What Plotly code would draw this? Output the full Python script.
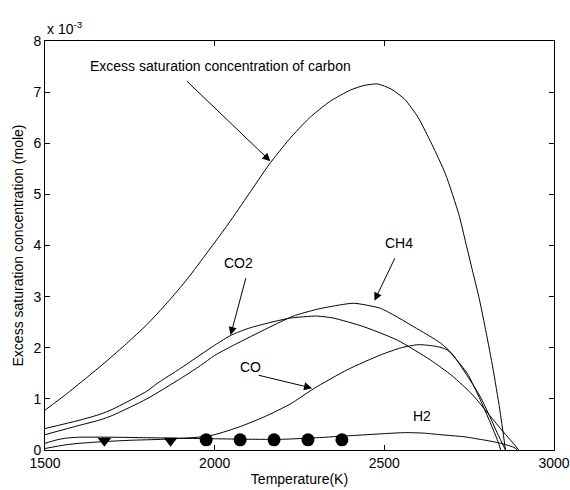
import plotly.graph_objects as go

# Values in units of 1e-3 mole
T_carbon = [1500, 1560, 1620, 1680, 1740, 1800, 1860, 1920, 1980, 2040, 2100, 2160, 2220, 2280,
            2340, 2400, 2440, 2480, 2520, 2560, 2600, 2640, 2680, 2720, 2740, 2760, 2780, 2800,
            2820, 2840, 2857]
C_carbon = [0.78, 1.08, 1.40, 1.73, 2.08, 2.45, 2.88, 3.35, 3.88, 4.42, 5.00, 5.58, 6.08, 6.50,
            6.82, 7.04, 7.13, 7.16, 7.06, 6.86, 6.50, 5.98, 5.40, 4.60, 4.05, 3.50, 2.95, 2.30,
            1.60, 0.80, 0.0]

T_co2 = [1500, 1600, 1663, 1700, 1800, 1830, 1900, 2000, 2050, 2100, 2155, 2223, 2300, 2350,
         2440, 2538, 2636, 2700, 2760, 2810, 2850, 2880, 2896]
C_co2 = [0.42, 0.58, 0.70, 0.80, 1.15, 1.30, 1.60, 2.05, 2.25, 2.38, 2.48, 2.58, 2.62, 2.58,
         2.41, 2.15, 1.76, 1.45, 1.08, 0.68, 0.36, 0.13, 0.0]

T_ch4 = [1500, 1600, 1663, 1700, 1800, 1900, 1958, 2000, 2056, 2155, 2232, 2300, 2371, 2410,
         2489, 2587, 2666, 2700, 2783, 2833, 2857]
C_ch4 = [0.30, 0.48, 0.59, 0.68, 1.00, 1.40, 1.65, 1.85, 2.05, 2.38, 2.62, 2.75, 2.84, 2.87,
         2.77, 2.41, 2.09, 1.88, 1.04, 0.33, 0.0]

T_co = [1500, 1560, 1600, 1663, 1750, 1850, 1950, 2000, 2076, 2150, 2223, 2292, 2391, 2489,
        2550, 2600, 2650, 2685, 2744, 2783, 2833, 2843]
C_co = [0.03, 0.10, 0.13, 0.16, 0.19, 0.21, 0.25, 0.30, 0.46, 0.66, 0.90, 1.20, 1.57, 1.86,
        2.00, 2.06, 2.03, 1.96, 1.50, 0.98, 0.20, 0.0]

T_h2 = [1500, 1530, 1560, 1600, 1700, 1800, 1900, 2000, 2100, 2200, 2300, 2400, 2500, 2560,
        2616, 2664, 2734, 2763, 2823, 2860, 2882, 2892]
C_h2 = [0.13, 0.19, 0.23, 0.25, 0.25, 0.24, 0.23, 0.22, 0.21, 0.21, 0.24, 0.28, 0.32, 0.34,
        0.33, 0.30, 0.26, 0.23, 0.16, 0.10, 0.05, 0.0]

T_tri = [1675, 1870]
C_tri = [0.18, 0.18]
T_dot = [1975, 2075, 2175, 2275, 2375]
C_dot = [0.20, 0.20, 0.20, 0.20, 0.20]

x_ticks = [1500, 2000, 2500, 3000]
y_ticks = [0, 1, 2, 3, 4, 5, 6, 7, 8]

FONT = "Liberation Sans, Arial, sans-serif"
line = dict(color="black", width=1, shape="spline", smoothing=0.6)

fig = go.Figure()
for T, C in [(T_carbon, C_carbon), (T_co2, C_co2), (T_ch4, C_ch4), (T_co, C_co), (T_h2, C_h2)]:
    fig.add_trace(go.Scatter(x=T, y=C, mode="lines", line=line, showlegend=False,
                             hoverinfo="skip"))
fig.add_trace(go.Scatter(x=T_tri, y=C_tri, mode="markers", showlegend=False,
                         marker=dict(symbol="triangle-down", size=12, color="black")))
fig.add_trace(go.Scatter(x=T_dot, y=C_dot, mode="markers", showlegend=False,
                         marker=dict(symbol="circle", size=13, color="black")))

labels = [
    ("Excess saturation concentration of carbon", 2017, 7.51),
    ("CO2", 2070, 3.66),
    ("CH4", 2542, 4.05),
    ("CO", 2106, 1.63),
    ("H2", 2612, 0.665),
]
for txt, x, y in labels:
    fig.add_annotation(x=x, y=y, text=txt, showarrow=False, xref="x", yref="y",
                       font=dict(family=FONT, size=14, color="black"))

arrows = [
    (1914, 7.24, 2164, 5.65),
    (2093, 3.39, 2047, 2.25),
    (2533, 3.78, 2471, 2.92),
    (2125, 1.47, 2287, 1.21),
]
for ax, ay, x, y in arrows:
    fig.add_annotation(x=x, y=y, ax=ax, ay=ay, xref="x", yref="y", axref="x", ayref="y",
                       text="", showarrow=True, arrowhead=2, arrowsize=1.6, arrowwidth=1,
                       arrowcolor="black", standoff=0, startstandoff=0)

fig.add_annotation(x=0.0, y=1.0, xref="paper", yref="paper", xanchor="left", yanchor="bottom",
                   text="x 10<sup>-3</sup>", showarrow=False, yshift=2,
                   font=dict(family=FONT, size=14, color="black"))

axis_common = dict(showline=True, linecolor="black", linewidth=1, mirror="ticks",
                   ticks="inside", ticklen=5, tickcolor="black", showgrid=False,
                   zeroline=False, tickfont=dict(family=FONT, size=14, color="black"))

fig.update_layout(
    width=570, height=490,
    margin=dict(l=45, r=16, t=41, b=40),
    paper_bgcolor="white", plot_bgcolor="white",
    xaxis=dict(range=[1500, 3000], tickvals=x_ticks, ticktext=[str(v) for v in x_ticks],
               title=dict(text="Temperature(K)", font=dict(family=FONT, size=14, color="black"),
                          standoff=4),
               automargin=False, **axis_common),
    yaxis=dict(range=[0, 8], tickvals=y_ticks, ticktext=[str(v) for v in y_ticks],
               title=dict(text="Excess saturation concentration (mole)",
                          font=dict(family=FONT, size=14, color="black"), standoff=6),
               automargin=False, **axis_common),
)

fig.write_html("out.html", config={"displayModeBar": False},
               post_script="document.body.style.margin='0';document.body.style.overflow='hidden';")
